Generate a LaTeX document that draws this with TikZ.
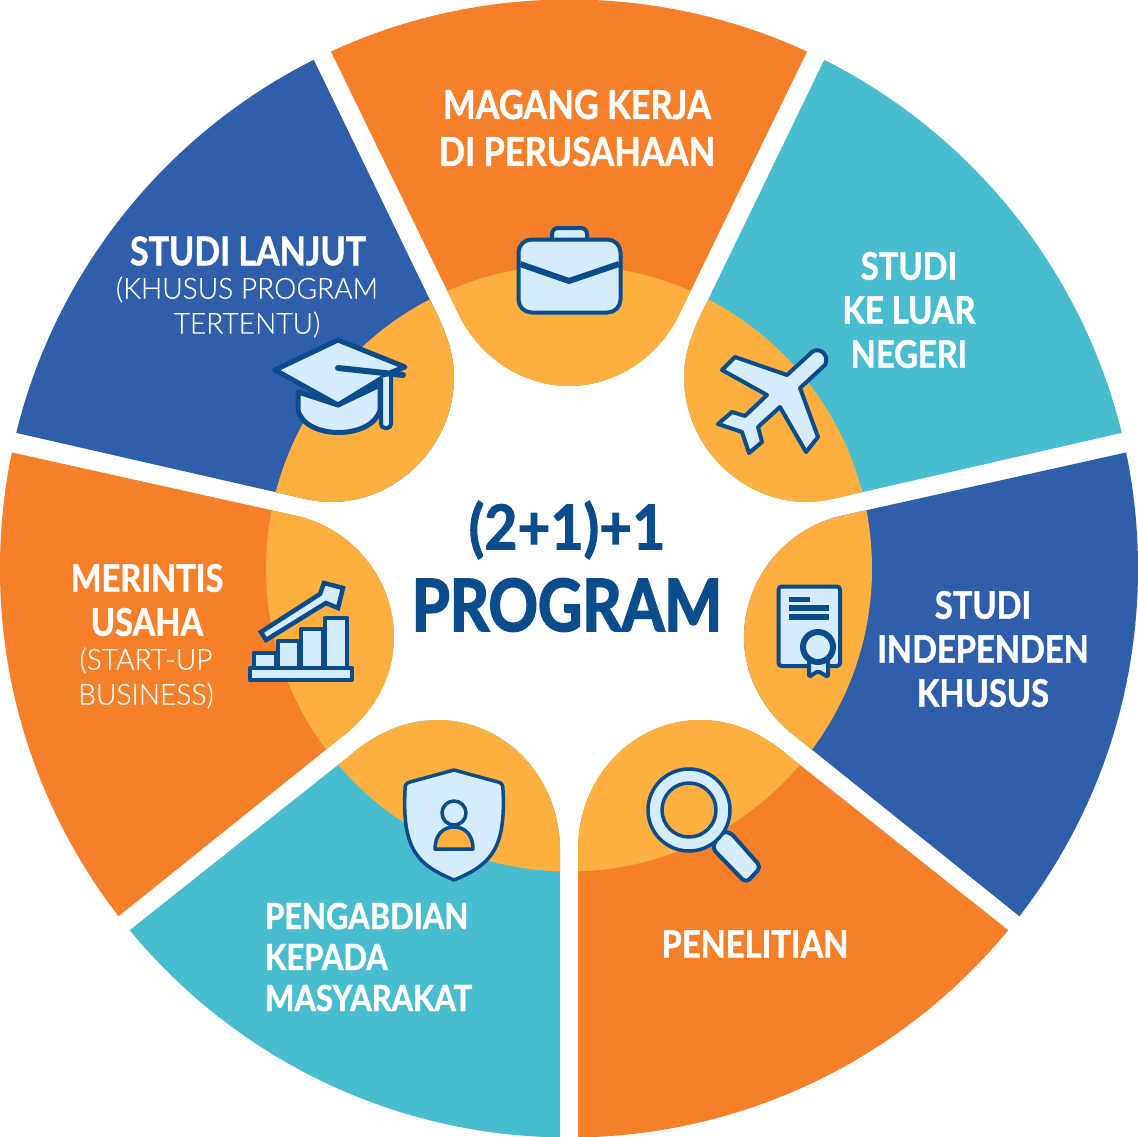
\documentclass[tikz,border=0pt]{standalone}
\usepackage{fontspec}
\setmainfont{Lato}
\newfontfamily\headfont{Lato}[BoldFeatures={FakeStretch=0.86,FakeBold=1.2}]
\newfontfamily\bigfont{Lato}[BoldFeatures={FakeStretch=0.92,FakeBold=1.6}]
\newfontfamily\progfont{Lato}[BoldFeatures={FakeStretch=0.85,FakeBold=2.4}]
\newfontfamily\thinfont{Lato Light}[FakeStretch=0.97,FakeBold=0.3]
\definecolor{orangeC}{HTML}{F67F29}
\definecolor{tealC}{HTML}{49BDD0}
\definecolor{blueC}{HTML}{2F5EAB}
\definecolor{petalC}{HTML}{FDAF40}
\definecolor{navyC}{HTML}{0B4D8C}
\definecolor{lightC}{HTML}{D5ECFC}
\tikzset{
  head/.style = {font=\headfont\bfseries\fontsize{38}{44}\selectfont, text=white, align=center, inner sep=0pt},
  thin text/.style = {font=\thinfont\fontsize{29}{35}\selectfont, text=white, align=center, inner sep=0pt},
  icon/.style = {draw=navyC, fill=lightC, line width=4pt, line join=round},
  ink/.style = {fill=navyC, draw=none}
}
\newcommand{\sectorpart}[2]{%
  \begin{scope}
    \clip #2;
    \fill [#1] (ctr) circle [radius=569];
    \fill [petalC] (ctr) circle [radius=303];
  \end{scope}}
\begin{document}
\begin{tikzpicture}%
        [x=1pt, y=-1pt]
        \useasboundingbox (0,0) rectangle (1138,1137);
        \coordinate (ctr) at (569,568.5);

        % sectors, clockwise from the top
        \sectorpart{orangeC}{(301,-10) -- (460,317) .. controls (482,360) and (525,386) .. (569,386) .. controls (613,386) and (656,360) .. (678,317) -- (837,-10) -- cycle}
        \sectorpart{tealC}{(858,-10) -- (1200,-10) -- (1200,415) -- (863,492) .. controls (840,497) and (825,502) .. (807,502) .. controls (740,502) and (684,445) .. (684,377) .. controls (684,350) and (695,325) .. (708,300) -- cycle}
        \sectorpart{blueC}{(1200,436) -- (845,515) .. controls (785,527) and (744,580) .. (744,637) .. controls (744,675) and (762,708) .. (790,732) -- (1100,981) -- (1200,981) -- cycle}
        \sectorpart{orangeC}{(578,1180) -- (578,850) .. controls (578,775) and (635,720) .. (700,720) .. controls (735,720) and (765,735) .. (790,757) -- (1090,995) -- (1090,1180) -- cycle}
        \sectorpart{tealC}{(560,1180) -- (560,850) .. controls (560,775) and (503,720) .. (438,720) .. controls (403,720) and (373,735) .. (348,757) -- (48,995) -- (48,1180) -- cycle}
        \sectorpart{orangeC}{(-62,436) -- (293,515) .. controls (353,527) and (394,580) .. (394,637) .. controls (394,675) and (376,708) .. (348,732) -- (38,981) -- (-62,981) -- cycle}
        \sectorpart{blueC}{(280,-10) -- (-62,-10) -- (-62,415) -- (275,492) .. controls (298,497) and (313,502) .. (331,502) .. controls (398,502) and (454,445) .. (454,377) .. controls (454,350) and (443,325) .. (430,300) -- cycle}

        % centre
        \node [head, text=navyC, font=\bigfont\bfseries\fontsize{62}{70}\selectfont] (sum) at (567,530) {(2+1)+1};
        \node [head, text=navyC, font=\progfont\bfseries\fontsize{72}{80}\selectfont] (prog) at (567,605) {PROGRAM};

        % labels
        \node [head, font=\headfont\bfseries\fontsize{40}{47}\selectfont] (magang) at (577,128) {MAGANG KERJA\\DI PERUSAHAAN};
        \node [head] (luar) at (909,310) {STUDI\\KE LUAR\\NEGERI};
        \node [head] (indep) at (983,649) {STUDI\\INDEPENDEN\\KHUSUS};
        \node [head] (teliti) at (755,944) {PENELITIAN};
        \node [head, align=left, anchor=west, font=\headfont\bfseries\fontsize{36}{41}\selectfont] (abdi) at (265,957) {PENGABDIAN\\KEPADA\\MASYARAKAT};
        \node [head] (rintis) at (147,600) {MERINTIS\\USAHA};
        \node [thin text] (startup) at (146,678) {(START-UP\\BUSINESS)};
        \node [head, font=\headfont\bfseries\fontsize{39.5}{44}\selectfont] (lanjut) at (248,251) {STUDI LANJUT};
        \node [thin text] (khusus) at (247,307) {(KHUSUS PROGRAM\\TERTENTU)};

        % briefcase
        \draw [icon, rounded corners=6] (552,242) -- (552,228) -- (587,228) -- (587,242);
        \draw [icon, rounded corners=13] (518.5,239.5) rectangle (620.5,312.5);
        \draw [navyC, line width=6pt, line join=round] (520,264) -- (569,281) -- (619,264);

        % plane
        \draw [icon] (787,375) -- (812,352) .. controls (820,346) and (830,356) .. (825,365) -- (800,388) -- (818,437) -- (806,452) -- (780,407) -- (758,427) -- (762,442) -- (749,453) -- (742,432) -- (718,424) -- (732,412) -- (745,416) -- (767,395) -- (722,370) -- (735,357) -- cycle;

        % certificate
        \draw [icon, rounded corners=3] (778.5,586.5) rectangle (840,666);
        \fill [ink] (789,596.5) rectangle (810,601.5);
        \fill [ink] (789,605) rectangle (829,610.5);
        \fill [ink] (789,614) rectangle (829,620);
        \draw [icon, rounded corners=2] (809,656) -- (809,677) -- (818,671) -- (828,677) -- (828,656);
        \draw [icon, line width=6pt] (818,647) circle [radius=15];

        % chart
        \draw [icon] (254,668) -- (254,653) -- (276,653) -- (276,668);
        \draw [icon] (278,668) -- (278,641) -- (299,641) -- (299,668);
        \draw [icon] (301,668) -- (301,629) -- (323,629) -- (323,668);
        \draw [icon] (325,668) -- (325,618) -- (347,618) -- (347,668);
        \draw [icon] (250,668) rectangle (352,680);
        \draw [icon, line width=4.5pt, line join=miter] (261,632) -- (266,640) -- (326,603) -- (338,608) -- (343,588) -- (324,583) -- (320,594) -- cycle;

        % shield
        \draw [icon, line width=3.5pt] (454,770) -- (498,782) .. controls (502,783) and (503,785) .. (503,790) .. controls (506,850) and (490,865) .. (454,880) .. controls (418,865) and (402,850) .. (405,790) .. controls (405,785) and (406,783) .. (410,782) -- cycle;
        \draw [icon, line width=3.5pt] (454,813) circle [radius=12];
        \draw [draw=navyC, fill=petalC, line width=3.5pt, line join=round] (435,849) .. controls (435,835) and (443,827) .. (454,827) .. controls (465,827) and (473,835) .. (473,849) -- cycle;

        % magnifier
        \draw [icon, rounded corners=5] (721,832) -- (730,832) -- (761,867) -- (746,883) -- (712,848) -- cycle;
        \draw [icon, even odd rule, line width=3.5pt] (689,810) circle [radius=41] (689,810) circle [radius=27];

        % graduation cap
        \draw [icon, line width=5pt] (298,392) -- (298,410) .. controls (305,440) and (372,440) .. (380,410) -- (380,385) -- (338,405) -- cycle;
        \draw [icon, line width=5pt] (275,370) -- (338,340) -- (405,367) -- (392,372) -- (338,405) -- cycle;
        \draw [navyC, line width=6pt, line cap=round] (338,368) -- (403,375);
        \draw [icon, rounded corners=4] (381,378) -- (381,428) -- (391,428) -- (391,376);

\end{tikzpicture}
\end{document}
